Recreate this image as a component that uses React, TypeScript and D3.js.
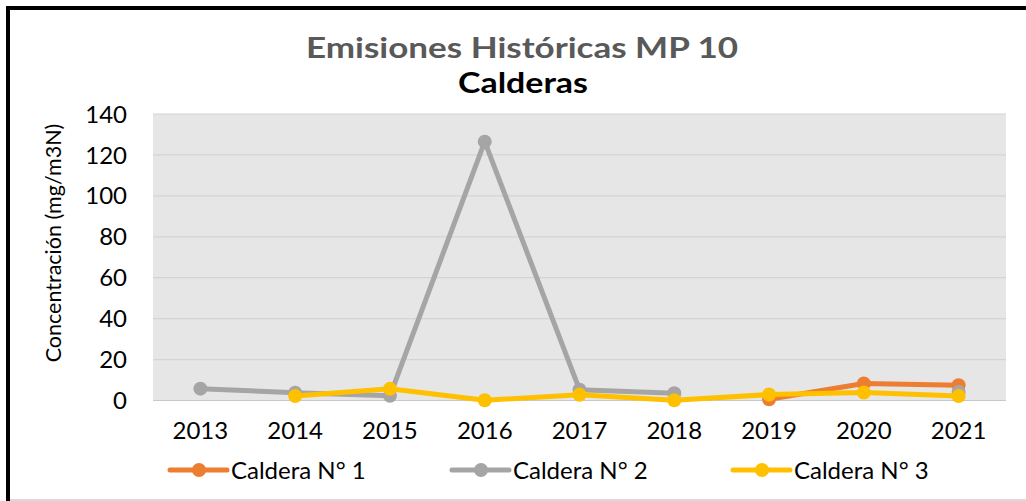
import React from "react";
import * as d3 from "d3";

const years = ["2013", "2014", "2015", "2016", "2017", "2018", "2019", "2020", "2021"];
const caldera1: (number | null)[] = [null, null, null, null, null, null, 0.6, 8.3, 7.5];
const caldera2: (number | null)[] = [5.8, 3.8, 2.3, 126.5, 5.3, 3.6, null, null, 4.2];
const caldera3: (number | null)[] = [null, 2.2, 5.7, 0.1, 2.8, 0.1, 2.9, 3.9, 2.2];
const seriesNames = ["Caldera N° 1", "Caldera N° 2", "Caldera N° 3"];
const seriesColors = ["#ED7D31", "#A5A5A5", "#FFC000"];
const yTicks = [0, 20, 40, 60, 80, 100, 120, 140];

const W = 1026;
const H = 501;
const plot = { left: 153, right: 1006, top: 114, bottom: 400.5 };
const FONT = "Lato, 'Open Sans', sans-serif";

export default function App() {
  const x = d3.scaleBand<string>().domain(years).range([plot.left, plot.right]);
  const y = d3.scaleLinear().domain([0, 140]).range([plot.bottom, plot.top]);
  const cx = (yr: string) => (x(yr) as number) + x.bandwidth() / 2;
  const data = [caldera1, caldera2, caldera3];

  const line = d3
    .line<{ yr: string; v: number | null }>()
    .defined((d) => d.v !== null)
    .x((d) => cx(d.yr))
    .y((d) => y(d.v as number));

  const legendX = [170, 452, 733];

  return (
    <svg
      width={W}
      height={H}
      style={{ position: "absolute", left: 0, top: 0, background: "#fff" }}
    >
      <rect x={0} y={0} width={W} height={H} fill="#fff" />
      {/* border */}
      <line x1={8} y1={8} x2={W} y2={8} stroke="#000" strokeWidth={4} />
      <line x1={8} y1={6} x2={8} y2={H} stroke="#000" strokeWidth={4} />
      <line x1={10} y1={500} x2={W} y2={500} stroke="#d9d9d9" strokeWidth={2} />

      {/* titles */}
      <text x={522} y={58} textAnchor="middle" fontFamily={FONT} fontWeight="bold" fontSize={29} fill="#595959" textLength={432} lengthAdjust="spacingAndGlyphs">
        Emisiones Históricas MP 10
      </text>
      <text x={523} y={93} textAnchor="middle" fontFamily={FONT} fontWeight="bold" fontSize={29} fill="#000" textLength={130} lengthAdjust="spacingAndGlyphs">
        Calderas
      </text>

      {/* plot background */}
      <rect x={plot.left} y={plot.top} width={plot.right - plot.left} height={plot.bottom - plot.top} fill="#e6e6e6" />
      {yTicks.map((t) => (
        <line
          key={t}
          x1={plot.left}
          x2={plot.right}
          y1={y(t)}
          y2={y(t)}
          stroke={t === 0 ? "#c8c8c8" : "#d4d4d4"}
          strokeWidth={1.2}
        />
      ))}
      {yTicks.map((t) => (
        <text key={"l" + t} x={127} y={y(t)} dy="0.36em" textAnchor="end" fontFamily={FONT} fontSize={24} fill="#000">
          {t}
        </text>
      ))}
      {years.map((yr) => (
        <text key={yr} x={cx(yr)} y={439} textAnchor="middle" fontFamily={FONT} fontSize={24} fill="#000">
          {yr}
        </text>
      ))}
      <text
        transform={`translate(61,243) rotate(-90)`}
        textAnchor="middle"
        fontFamily={FONT}
        fontSize={21.5}
        fill="#000"
      >
        Concentración (mg/m3N)
      </text>

      {/* series */}
      {data.map((s, i) => {
        const pts = years.map((yr, j) => ({ yr, v: s[j] }));
        return (
          <g key={i}>
            <path d={line(pts) || ""} fill="none" stroke={seriesColors[i]} strokeWidth={5} strokeLinejoin="round" strokeLinecap="round" />
            {pts
              .filter((p) => p.v !== null)
              .map((p) => (
                <circle key={p.yr} cx={cx(p.yr)} cy={y(p.v as number)} r={7} fill={seriesColors[i]} />
              ))}
          </g>
        );
      })}

      {/* legend */}
      {seriesNames.map((n, i) => (
        <g key={n}>
          <line x1={legendX[i]} x2={legendX[i] + 57} y1={470} y2={470} stroke={seriesColors[i]} strokeWidth={5} strokeLinecap="round" />
          <circle cx={legendX[i] + 29} cy={470} r={7} fill={seriesColors[i]} />
          <text x={legendX[i] + 61} y={470} dy="0.36em" fontFamily={FONT} fontSize={24} fill="#000">
            {n}
          </text>
        </g>
      ))}
    </svg>
  );
}
